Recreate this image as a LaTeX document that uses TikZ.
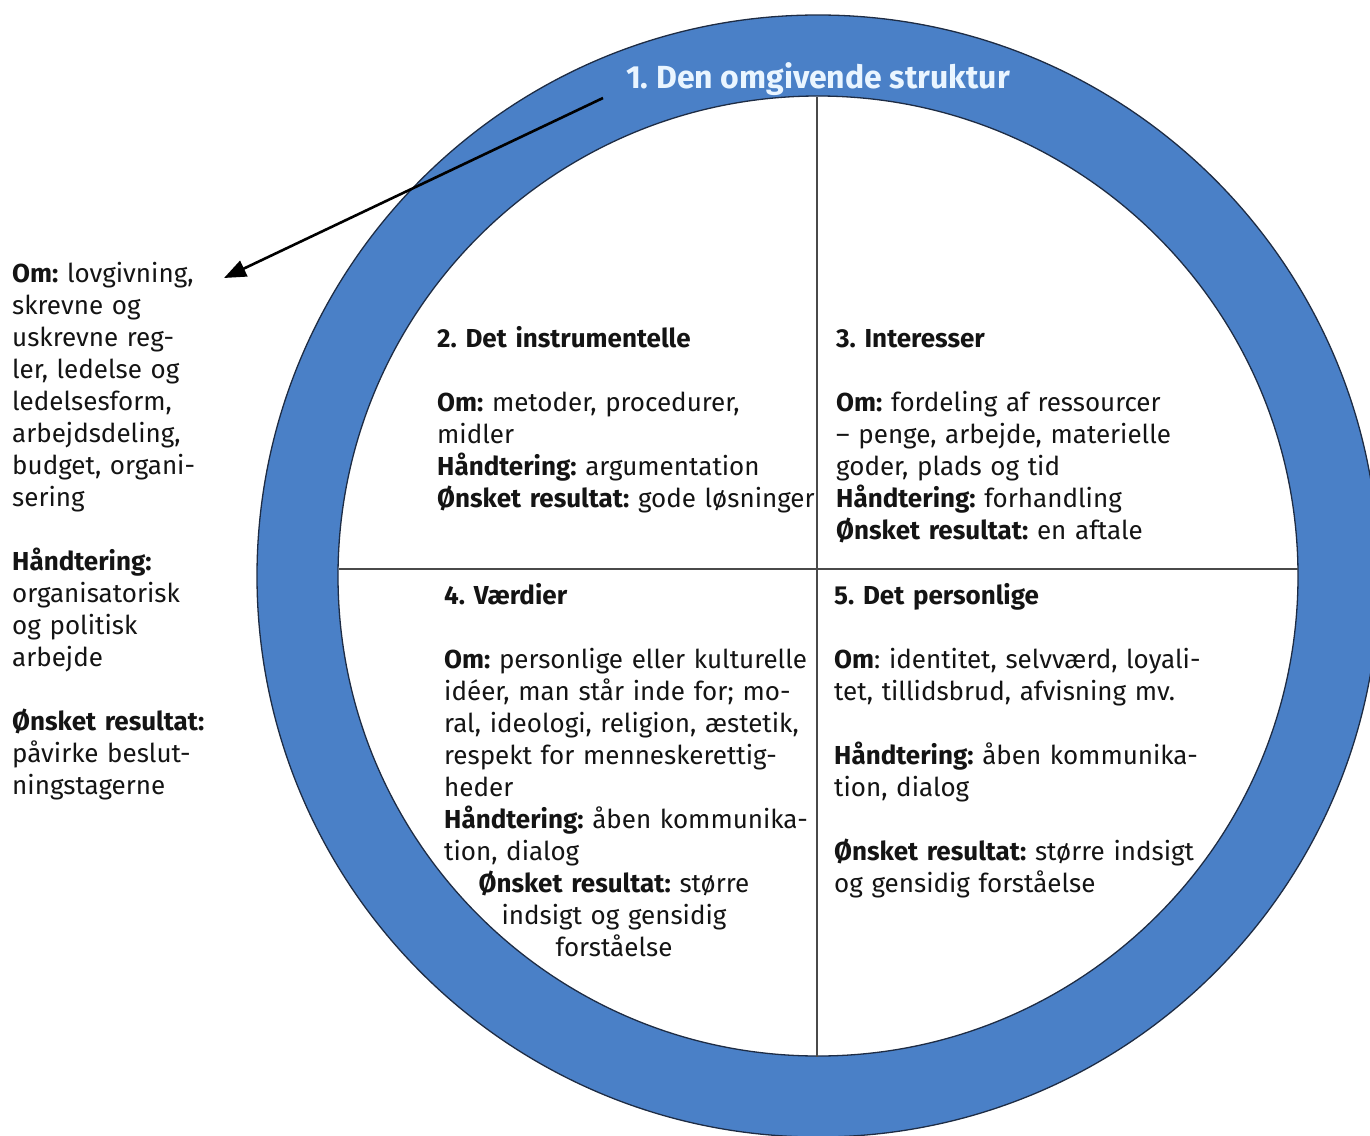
\documentclass[tikz,border=0pt]{standalone}
\usepackage{fontspec}
\setmainfont{Fira Sans}
\newfontfamily\titlefont{Fira Sans}
\usetikzlibrary{arrows.meta}
\definecolor{ringblue}{HTML}{4A80C7}
\definecolor{ringedge}{HTML}{1E2C44}
\definecolor{titlecol}{HTML}{EAF5FF}
\definecolor{txt}{HTML}{141414}
\definecolor{divider}{HTML}{4A4A4A}
\begin{document}
\begin{tikzpicture}[x=1pt,y=-1pt,
  block/.style={anchor=base west,inner sep=0pt,align=left,text width=#1,text=txt,
    font=\fontsize{26}{32}\selectfont\frenchspacing},
  block/.default=420pt,
  divline/.style={draw=divider,line width=2.5pt},
  pointer/.style={draw=black,line width=2.6pt,-{Triangle[length=22pt,width=17pt]}}]
\useasboundingbox (0,0) rectangle (1370,1135);
\begin{scope}
\clip (0,0) rectangle (1370,1135);
\coordinate (c) at (818,576);
\fill[ringblue,even odd rule] (c) circle (561) (c) circle (480);
\draw[ringedge,line width=1.3pt] (c) circle (561);
\draw[ringedge,line width=1.3pt] (c) circle (480);
\end{scope}
\coordinate (vt) at (817,97);
\coordinate (vb) at (817,1057);
\coordinate (hl) at (339,569);
\coordinate (hr) at (1298,569);
\draw[divline] (vt) -- (vb);
\draw[divline] (hl) -- (hr);
\node[anchor=base,inner sep=0pt,text=titlecol,font=\titlefont\bfseries\fontsize{32}{36}\selectfont\frenchspacing] (title) at (818,88) {1. Den omgivende struktur};
\coordinate (arrs) at (603,98);
\coordinate (arre) at (224,278);
\draw[pointer] (arrs) -- (arre);
\node[block=240pt] (left) at (12,282) {\textbf{Om:} lovgivning,\\skrevne og\\uskrevne reg-\\ler, ledelse og\\ledelsesform,\\arbejdsdeling,\\budget, organi-\\sering\\[32pt]\textbf{Håndtering:}\\organisatorisk\\og politisk\\arbejde\\[32pt]\textbf{Ønsket resultat:}\\påvirke beslut-\\ningstagerne};
\node[block] (q2) at (437,347) {\textbf{2. Det instrumentelle}\\[32pt]\textbf{Om:} metoder, procedurer,\\midler\\\textbf{Håndtering:} argumentation\\\textbf{Ønsket resultat:} gode løsninger};
\node[block] (q3) at (836,347) {\textbf{3. Interesser}\\[32pt]\textbf{Om:} fordeling af ressourcer\\– penge, arbejde, materielle\\goder, plads og tid\\\textbf{Håndtering:} forhandling\\\textbf{Ønsket resultat:} en aftale};
\node[block] (q4) at (444,604) {\textbf{4. Værdier}\\[32pt]\textbf{Om:} personlige eller kulturelle\\idéer, man står inde for; mo-\\ral, ideologi, religion, æstetik,\\respekt for menneskerettig-\\heder\\\textbf{Håndtering:} åben kommunika-\\tion, dialog};
\node[anchor=base,inner sep=0pt,align=center,text width=400pt,text=txt,font=\fontsize{26}{32}\selectfont\frenchspacing] (q4r) at (614,892) {\textbf{Ønsket resultat:} større\\indsigt og gensidig\\forståelse};
\node[block] (q5) at (834,604) {\textbf{5. Det personlige}\\[32pt]\textbf{Om}: identitet, selvværd, loyali-\\tet, tillidsbrud, afvisning mv.\\[32pt]\textbf{Håndtering:} åben kommunika-\\tion, dialog\\[32pt]\textbf{Ønsket resultat:} større indsigt\\og gensidig forståelse};
\end{tikzpicture}
\end{document}
